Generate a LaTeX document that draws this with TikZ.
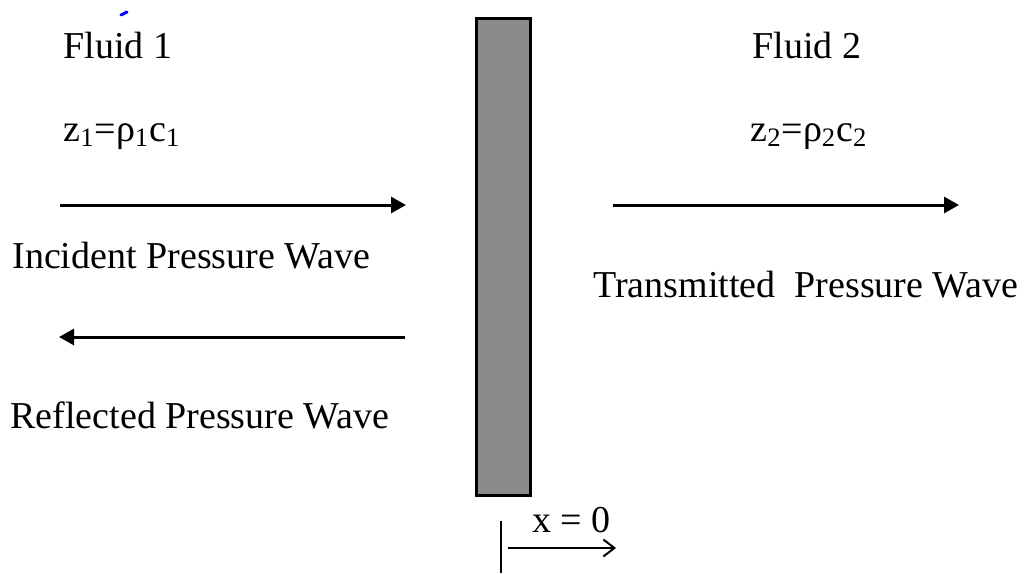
\documentclass[tikz,border=0pt]{standalone}
\usepackage{fontspec}
\setmainfont{Liberation Serif}
\usetikzlibrary{arrows.meta}

\tikzset{
    label text/.style={anchor=base west, inner sep=0pt, font=\fontsize{19}{23}\selectfont},
    wave/.style={line width=1.5pt, -{Triangle[length=7.5pt, width=8pt]}},
}

\begin{document}
\begin{tikzpicture}[x=0.5pt, y=-0.5pt]
    \useasboundingbox (0,0) rectangle (1026,573);

    % Stray pen mark
    \draw[blue, line width=1.5pt, line cap=round] (121,15) -- (127,12);

    % Plate
    \draw[line width=1.5pt, fill=black!46] (476,18) rectangle (530,495);

    % Fluid 1 side
    \node[label text] (fluid1) at (63,58) {Fluid 1};
    \node[label text] (imp1) at (63,141) {z\textsubscript{1}=ρ\textsubscript{1}c\textsubscript{1}};
    \coordinate (inc start) at (60,205);
    \coordinate (inc end) at (406,205);
    \draw[wave] (inc start) -- (inc end);
    \node[label text] (incident) at (12,268) {Incident Pressure Wave};
    \coordinate (ref start) at (405,337);
    \coordinate (ref end) at (59,337);
    \draw[wave] (ref start) -- (ref end);
    \node[label text] (reflected) at (10,428) {Reflected Pressure Wave};

    % Fluid 2 side
    \node[label text] (fluid2) at (752,58) {Fluid 2};
    \node[label text] (imp2) at (750,141) {z\textsubscript{2}=ρ\textsubscript{2}c\textsubscript{2}};
    \coordinate (tra start) at (613,205);
    \coordinate (tra end) at (959,205);
    \draw[wave] (tra start) -- (tra end);
    \node[label text] (transmitted) at (593,297) {Transmitted\ \ Pressure Wave};

    % Origin
    \coordinate (tick top) at (501,521);
    \coordinate (tick bottom) at (501,573);
    \draw[line width=1.25pt] (tick top) -- (tick bottom);
    \node[label text] (origin) at (532,532) {x = 0};
    \coordinate (x start) at (508,548);
    \coordinate (x end) at (616,548);
    \draw[line width=1pt, -{Straight Barb[length=5.5pt, width=8.5pt]}] (x start) -- (x end);
\end{tikzpicture}
\end{document}
